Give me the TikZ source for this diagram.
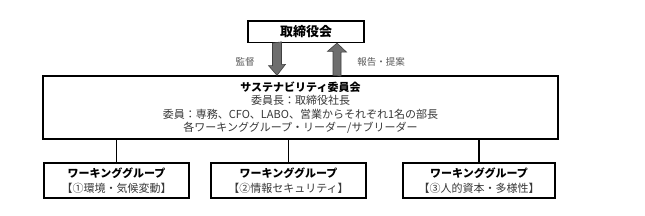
\documentclass[tikz,border=0pt]{standalone}
\usepackage{fontspec}
\setmainfont{Noto Sans CJK JP}
\newfontfamily\jp{Noto Sans CJK JP}
\begin{document}
\begin{tikzpicture}[x=1pt,y=-1pt,
  box/.style={draw=black, line width=1.3pt, fill=white, align=center, inner sep=0pt, font=\jp},
  conn/.style={draw=black, line width=1.5pt},
  blockarrow/.style={draw=black!75, line width=0.6pt, fill=black!57},
  lbl/.style={font=\jp\fontsize{9.5}{11}\selectfont, text=black!65},
  sub/.style={text=black!78}
]
\useasboundingbox (0,0) rectangle (645,216);
\fill[white] (0,0) rectangle (645,216);

\node[box, minimum width=116pt, minimum height=21.5pt, font=\jp\bfseries\fontsize{13}{15}\selectfont] (board) at (306,31.7) {取締役会};

\node[box, minimum width=515pt, minimum height=63pt, font=\jp\fontsize{11}{13.5}\selectfont] (comm) at (300.5,107.5)
  {\textbf{サステナビリティ委員会}\\
   \textcolor{black!78}{委員長：取締役社長}\\
   \textcolor{black!78}{委員：専務、CFO、LABO、営業からそれぞれ1名の部長}\\
   \textcolor{black!78}{各ワーキンググループ・リーダー/サブリーダー}};

\node[box, minimum width=145pt, minimum height=35pt, font=\jp\fontsize{11}{15.5}\selectfont] (wg1) at (116.5,180.5)
  {\textbf{ワーキンググループ}\\ \textcolor{black!78}{【①環境・気候変動】}};
\node[box, minimum width=155pt, minimum height=35pt, font=\jp\fontsize{11}{15.5}\selectfont] (wg2) at (288.5,180.5)
  {\textbf{ワーキンググループ}\\ \textcolor{black!78}{【②情報セキュリティ】}};
\node[box, minimum width=152pt, minimum height=35pt, font=\jp\fontsize{11}{15.5}\selectfont] (wg3) at (479,180.5)
  {\textbf{ワーキンググループ}\\ \textcolor{black!78}{【③人的資本・多様性】}};

\draw[conn] (wg1.north) -- (wg1.north |- comm.south);
\draw[conn] (wg2.north) -- (wg2.north |- comm.south);
\draw[conn] (wg3.north) -- (wg3.north |- comm.south);

% block arrows
\coordinate (dn) at (277,0);
\coordinate (up) at (337,0);
\draw[blockarrow] (dn |- board.south) ++(-4.5,0) -- ++(0,22.5) -- ++(-4,0) -- (dn |- comm.north) -- ++(8.5,-11) -- ++(-4,0) -- ++(0,-22.5) -- cycle;
\draw[blockarrow] (up |- comm.north) ++(-4,0) -- ++(0,-24) -- ++(-5.5,0) -- (up |- board.south) -- ++(9.5,9) -- ++(-5.5,0) -- ++(0,24) -- cycle;

\node[lbl] (l1) at (245,62) {監督};
\node[lbl] (l2) at (381,62) {報告・提案};
\end{tikzpicture}
\end{document}
